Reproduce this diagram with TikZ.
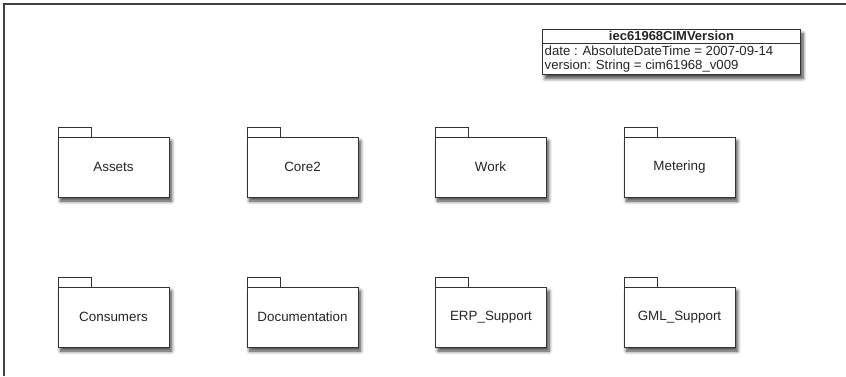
\documentclass[tikz,border=0pt]{standalone}
\usepackage{fontspec}
\setmainfont{Liberation Sans}
\usetikzlibrary{shadows.blur}
\begin{document}
\begin{tikzpicture}[x=1pt,y=-1pt,
  line color/.style={draw=black!80},
  soft shadow/.style={blur shadow={shadow xshift=2.5pt, shadow yshift=-4pt, shadow blur steps=8,
    shadow blur radius=3.5pt, shadow opacity=75}},
  folder/.style={line color, line width=1pt, fill=white, minimum width=111pt, minimum height=60pt,
    inner sep=0pt, text=black!85, font=\fontsize{13.4}{15}\selectfont, soft shadow},
  foldertab/.style={line color, line width=1pt, fill=white},
  classbox/.style={line color, line width=1pt, fill=white, soft shadow},
  classtext/.style={inner sep=0pt, text=black!85, font=\fontsize{13.2}{14}\selectfont},
  frame/.style={draw=black!75, line width=1.3pt}
]
\useasboundingbox (0,0) rectangle (846,376);
% diagram frame (open to the right and bottom)
\draw[frame] (4,376) -- (4,4) -- (846,4);

% package folders
\foreach \name/\label/\cx/\cy in {
  assets/Assets/113.5/167, core/Core2/302.5/167, work/Work/490.5/167, metering/Metering/679.5/167,
  consumers/Consumers/113.5/317, documentation/Documentation/302.5/317,
  erp/ERP\_Support/491/317, gml/GML\_Support/679.5/317}{
  \draw[foldertab] (\cx-55.5,\cy-30) rectangle ++(33,-10);
  \node[folder] (\name) at (\cx,\cy) {\label};
}

% version class
\node[classbox, minimum width=258pt, minimum height=45pt, anchor=north west] (ver) at (542,29) {};
\draw[line color, line width=1pt] ([yshift=-14pt]ver.north west) -- ([yshift=-14pt]ver.north east);
\node[classtext, font=\bfseries\fontsize{13}{14}\selectfont] (vertitle) at ([yshift=-7.3pt]ver.north) {iec61968CIMVersion};
\node[classtext, anchor=west] (verdate) at (544.5,50.5) {date : AbsoluteDateTime = 2007-09-14};
\node[classtext, anchor=west] (ververs) at (544.5,66) {version: String = cim61968\_v009};
\end{tikzpicture}
\end{document}
